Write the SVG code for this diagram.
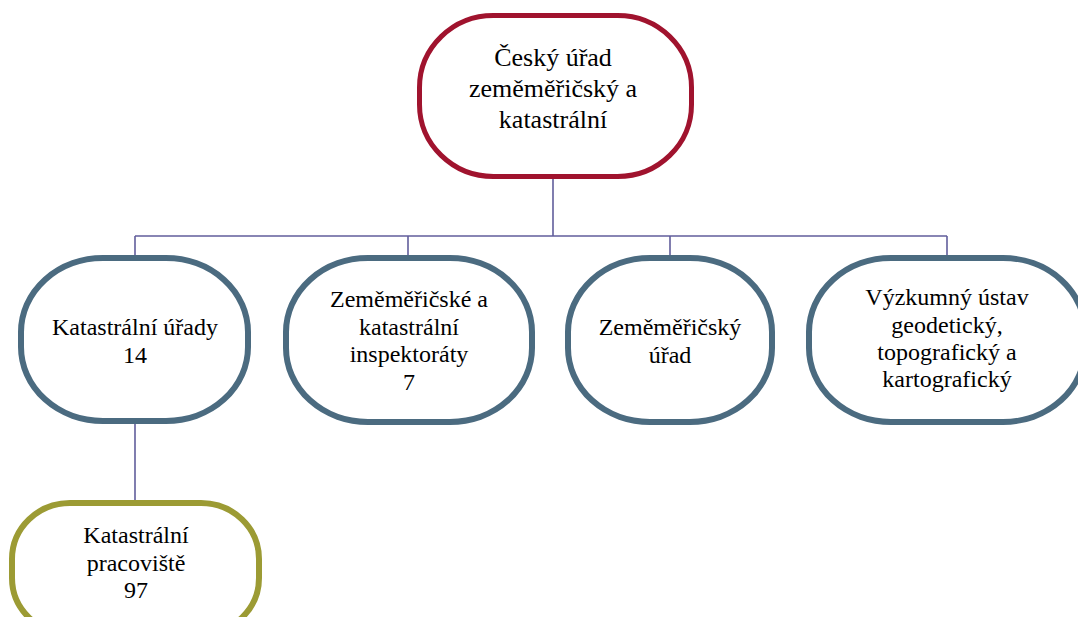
<svg xmlns="http://www.w3.org/2000/svg" width="1078" height="617" viewBox="0 0 1078 617">
<style>
.node{fill:#fff;stroke-width:6}
.top{stroke:#a0132e;stroke-width:5}
.mid{stroke:#4b6b80}
.low{stroke:#9c9b34}
text{font-family:"Liberation Serif","Times New Roman",serif;font-size:24px;fill:#000;text-anchor:middle}
.big{font-size:26px}
.conn{stroke:#625e9c;stroke-width:1.6;fill:none}
</style>
<rect width="1078" height="617" fill="#fff"/>
<g id="connectors">
<path class="conn" d="M553 178V236M135 236H947M135 236V257M408 236V257M670 236V257M947 236V257M135 423V502"/>
</g>
<g id="n0">
<rect class="node top" x="419.5" y="15.5" width="272" height="161" rx="74" ry="72"/>
<text class="big" x="553" y="66">Český úřad</text>
<text class="big" x="553" y="97">zeměměřičský a</text>
<text class="big" x="553" y="128">katastrální</text>
</g>
<g id="n1">
<rect class="node mid" x="21" y="258" width="227" height="163" rx="82" ry="74"/>
<text x="135" y="335">Katastrální úřady</text>
<text x="135" y="363">14</text>
</g>
<g id="n2">
<rect class="node mid" x="286" y="258" width="246" height="164" rx="82" ry="74"/>
<text x="409" y="307">Zeměměřičské a</text>
<text x="409" y="335">katastrální</text>
<text x="409" y="362">inspektoráty</text>
<text x="409" y="390">7</text>
</g>
<g id="n3">
<rect class="node mid" x="568" y="258" width="204" height="164" rx="82" ry="74"/>
<text x="670" y="335">Zeměměřičský</text>
<text x="670" y="363">úřad</text>
</g>
<g id="n4">
<rect class="node mid" x="809" y="258" width="276" height="164" rx="82" ry="74"/>
<text x="947" y="305">Výzkumný ústav</text>
<text x="947" y="333">geodetický,</text>
<text x="947" y="360">topografický a</text>
<text x="947" y="387">kartografický</text>
</g>
<g id="n5">
<rect class="node low" x="12" y="503" width="247" height="131" rx="58" ry="56"/>
<text x="136" y="543">Katastrální</text>
<text x="136" y="571">pracoviště</text>
<text x="136" y="598">97</text>
</g>
</svg>
